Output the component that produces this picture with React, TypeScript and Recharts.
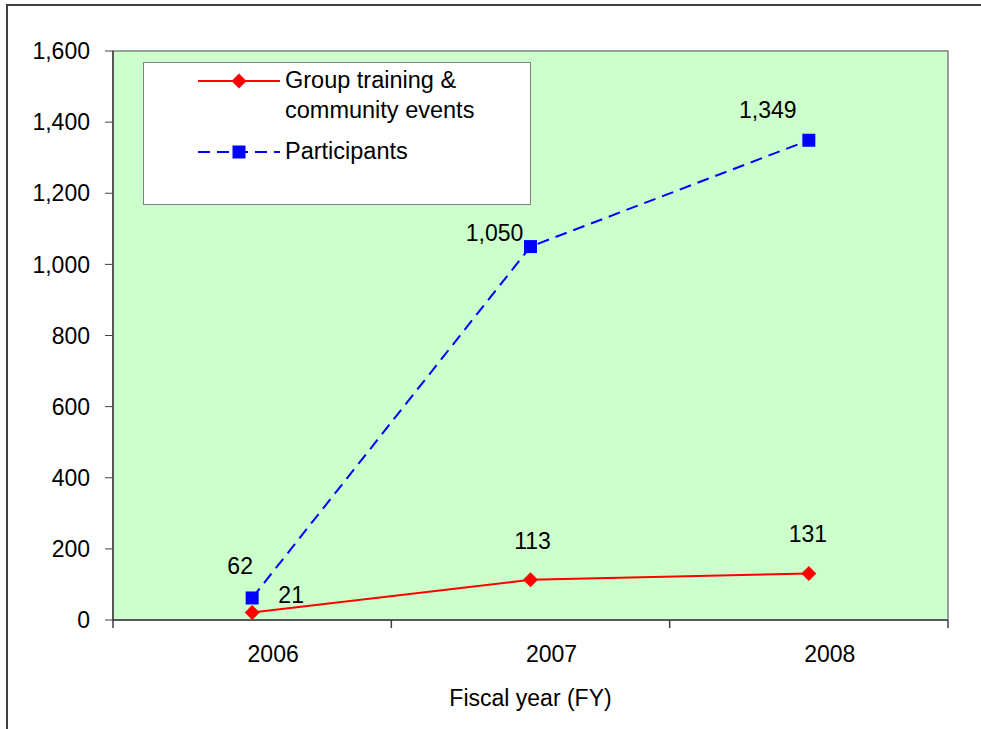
import { LineChart, Line, XAxis, YAxis, ReferenceArea, LabelList } from 'recharts'

const YEARS = ['2006', '2007', '2008']
const EVENTS = [21, 113, 131]
const PARTICIPANTS = [62, 1050, 1349]
const Y_TICKS = [0, 200, 400, 600, 800, 1000, 1200, 1400, 1600]

// label nudges, per point, so they sit like the original
const EVENT_LABEL_OFFSETS = [
  [39, -16],
  [2, -37],
  [-1, -37],
]
const PARTICIPANT_LABEL_OFFSETS = [
  [-12, -30],
  [-36, -12],
  [-41, -28],
]

const FONT = 'Arial, "Liberation Sans", sans-serif'
const FS = 23

const data = YEARS.map((year, i) => ({
  year,
  x: i + 0.5,
  events: EVENTS[i],
  participants: PARTICIPANTS[i],
}))

function fmt(v: number) {
  return v.toLocaleString('en-US')
}

function XTick(props: any) {
  const { x, y, payload } = props
  const v = payload.value as number
  if (Number.isInteger(v)) {
    return <line x1={x} x2={x} y1={y} y2={y + 8} stroke="#404040" strokeWidth={1.5} />
  }
  return (
    <text x={x + 21} y={y + 36} textAnchor="middle" dominantBaseline="middle" fontSize={FS} fill="#000">
      {YEARS[Math.floor(v)]}
    </text>
  )
}

function makeLabel(offsets: number[][]) {
  return (props: any) => {
    const { x, y, value, index } = props
    const [dx, dy] = offsets[index] ?? [0, -20]
    return (
      <text x={x + dx} y={y + dy} textAnchor="middle" dominantBaseline="middle" fontSize={FS} fill="#000">
        {fmt(Number(value))}
      </text>
    )
  }
}

function Diamond(props: any) {
  const { cx, cy } = props
  if (cx == null || cy == null) return null
  return <polygon points={`${cx},${cy - 7.5} ${cx + 7.5},${cy} ${cx},${cy + 7.5} ${cx - 7.5},${cy}`} fill="#FF0000" />
}

function Square(props: any) {
  const { cx, cy } = props
  if (cx == null || cy == null) return null
  return <rect x={cx - 6.5} y={cy - 6.5} width={13} height={13} fill="#0000FF" />
}

function LegendBox() {
  return (
    <div
      style={{
        position: 'absolute',
        left: 143,
        top: 62,
        width: 386,
        height: 141,
        background: '#fff',
        border: '1.5px solid #808080',
        fontSize: 23.5,
        color: '#000',
      }}
    >
      <svg width={90} height={20} style={{ position: 'absolute', left: 54, top: 8 }}>
        <line x1={0} x2={82} y1={10} y2={10} stroke="#FF0000" strokeWidth={2} />
        <polygon points="41,2.5 48.5,10 41,17.5 33.5,10" fill="#FF0000" />
      </svg>
      <div style={{ position: 'absolute', left: 141, top: 2, lineHeight: '30px', whiteSpace: 'nowrap' }}>
        Group training &amp;
        <br />
        community events
      </div>
      <svg width={90} height={20} style={{ position: 'absolute', left: 54, top: 79 }}>
        <line x1={0} x2={82} y1={10} y2={10} stroke="#0000FF" strokeWidth={2} strokeDasharray="12 7" />
        <rect x={34.5} y={3.5} width={13} height={13} fill="#0000FF" />
      </svg>
      <div style={{ position: 'absolute', left: 141, top: 73, lineHeight: '30px' }}>Participants</div>
    </div>
  )
}

export default function App() {
  return (
    <div
      style={{
        position: 'fixed',
        left: 0,
        top: 0,
        width: 981,
        height: 729,
        background: '#fff',
        fontFamily: FONT,
        overflow: 'hidden',
      }}
    >
      <div
        style={{
          position: 'absolute',
          left: 6,
          top: 4,
          width: 1200,
          height: 1200,
          borderLeft: '2px solid #404040',
          borderTop: '2px solid #404040',
        }}
      />
      <LineChart
        width={981}
        height={729}
        data={data}
        margin={{ top: 51, right: 33, bottom: 9, left: 0 }}
        style={{ position: 'absolute', left: 0, top: 0, fontFamily: FONT }}
      >
        <ReferenceArea
          x1={0}
          x2={3}
          y1={0}
          y2={1600}
          fill="#CCFFCC"
          fillOpacity={1}
          stroke="#808080"
          strokeWidth={1.5}
          ifOverflow="visible"
        />
        <XAxis
          dataKey="x"
          type="number"
          domain={[0, 3]}
          ticks={[0, 0.5, 1, 1.5, 2, 2.5, 3]}
          tickSize={0}
          tickMargin={0}
          tickLine={false}
          tick={<XTick />}
          interval={0}
          height={100}
          axisLine={{ stroke: '#404040', strokeWidth: 1.5 }}
          label={{ value: 'Fiscal year (FY)', position: 'insideBottom', offset: 14, fontSize: FS, fill: '#000' }}
        />
        <YAxis
          type="number"
          domain={[0, 1600]}
          ticks={Y_TICKS}
          width={113}
          tickSize={8}
          tickMargin={15}
          tickFormatter={(v: number) => fmt(v)}
          tick={{ fontSize: FS, fill: '#000' }}
          tickLine={{ stroke: '#404040' }}
          axisLine={{ stroke: '#404040', strokeWidth: 1.5 }}
        />
        <Line
          dataKey="participants"
          stroke="#0000FF"
          strokeWidth={2}
          strokeDasharray="12 7"
          dot={<Square />}
          isAnimationActive={false}
        >
          <LabelList dataKey="participants" content={makeLabel(PARTICIPANT_LABEL_OFFSETS)} />
        </Line>
        <Line
          dataKey="events"
          stroke="#FF0000"
          strokeWidth={2}
          dot={<Diamond />}
          isAnimationActive={false}
        >
          <LabelList dataKey="events" content={makeLabel(EVENT_LABEL_OFFSETS)} />
        </Line>
      </LineChart>
      <LegendBox />
    </div>
  )
}
